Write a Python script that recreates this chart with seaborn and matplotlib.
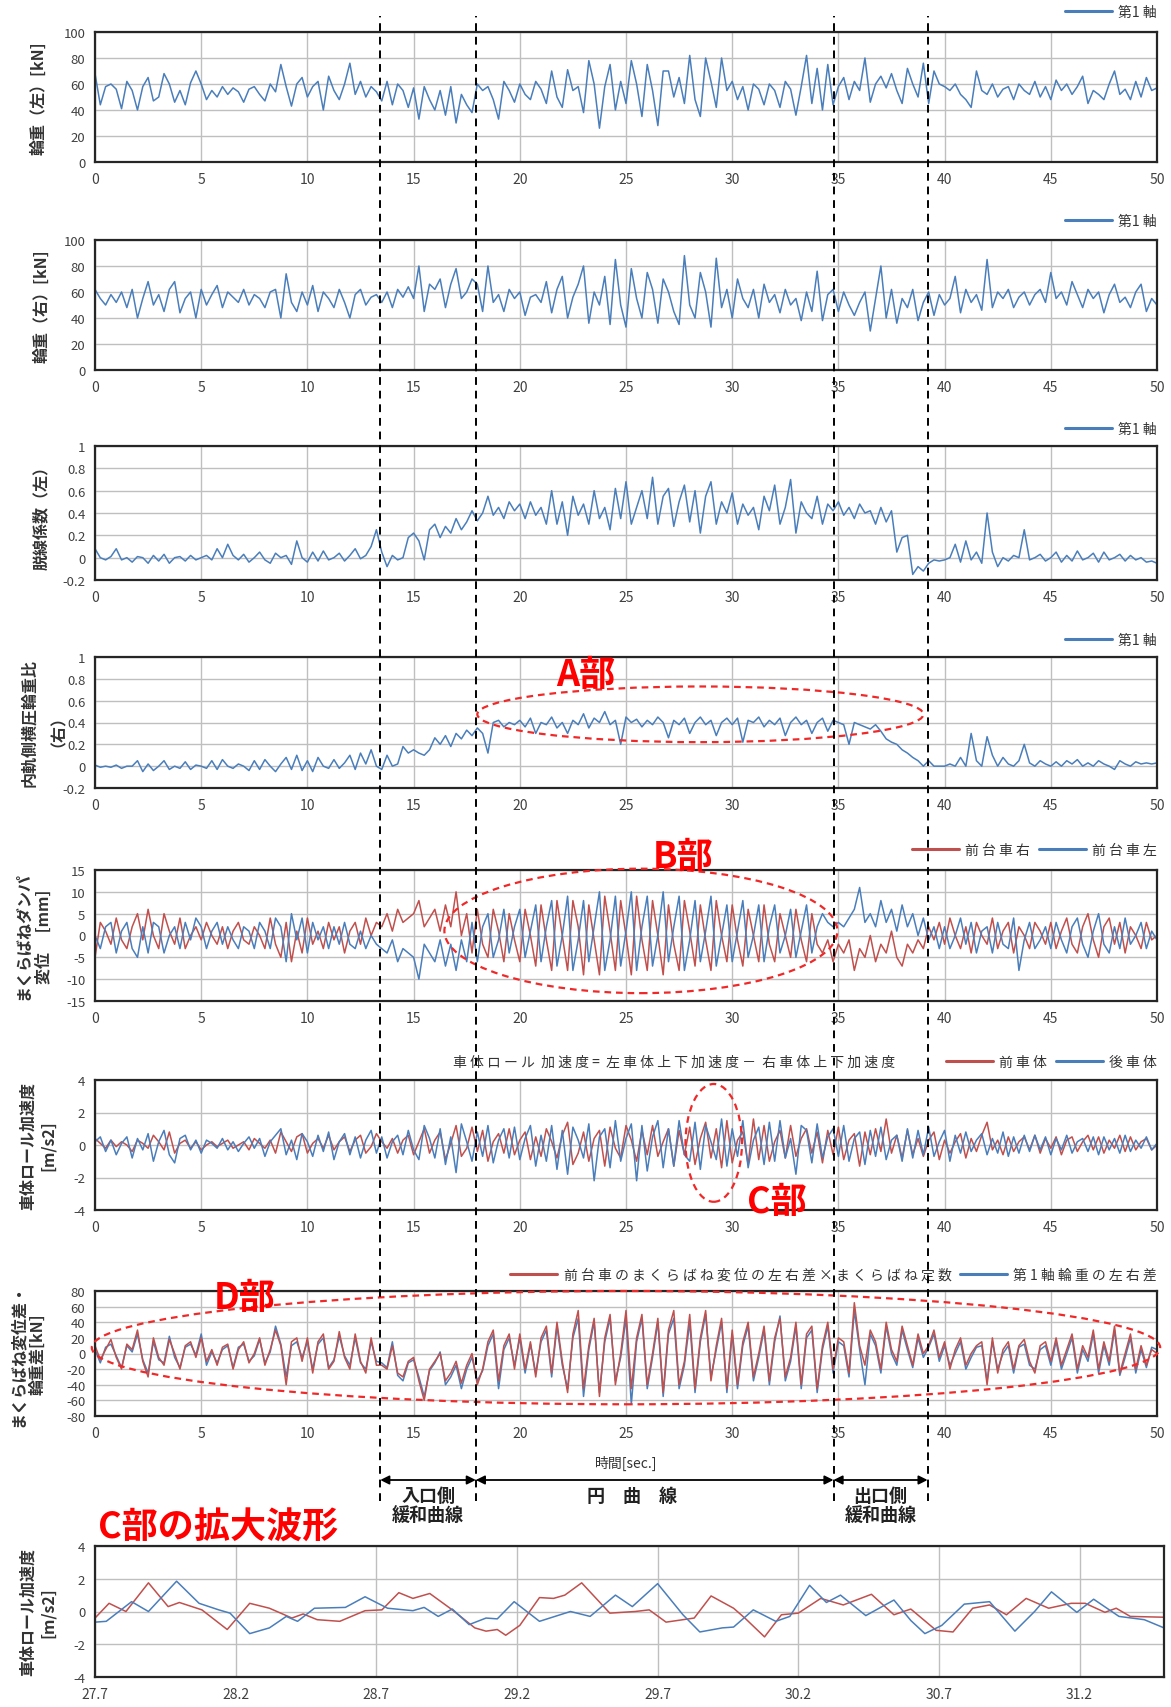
import numpy as np
import pandas as pd
import matplotlib
matplotlib.use("Agg")
import matplotlib.pyplot as plt
import seaborn as sns
from matplotlib.patches import Ellipse
from matplotlib.lines import Line2D

# ---------------- data (0.25 s sampling) ----------------
STEP = 0.25

wheel_load_left = [
    68,44,58,60,56,41,62,55,40,58,65,47,50,68,60,46,55,44,61,70,
    60,48,55,50,58,52,57,54,46,56,58,52,47,60,54,75,58,43,60,65,
    50,58,62,40,66,55,48,60,76,52,62,50,58,54,47,62,44,60,55,42,
    57,33,58,48,40,55,36,58,30,52,44,38,60,55,58,48,33,62,55,46,
    60,52,48,62,56,45,70,50,42,71,55,58,38,78,60,26,58,75,40,62,
    45,78,60,35,75,55,28,70,70,50,65,45,82,48,35,80,62,42,80,55,
    62,48,58,40,60,56,44,60,55,42,62,56,36,58,82,45,72,40,75,44,
    58,65,48,62,55,80,46,60,66,57,68,55,45,72,60,50,76,45,70,60,
    58,55,60,52,48,42,70,55,52,60,50,56,58,48,60,55,52,62,50,58,
    48,63,55,60,52,58,66,45,55,52,48,60,70,52,56,48,62,50,65,55,57]

wheel_load_right = [
    62,55,50,58,52,60,48,62,40,55,68,50,58,45,62,68,44,55,60,40,
    62,50,58,65,48,60,56,52,62,50,58,55,48,60,62,40,74,52,45,60,
    50,65,45,60,55,48,62,52,40,58,62,50,56,58,52,60,48,62,56,64,
    55,80,45,66,62,70,48,66,78,55,60,70,66,45,80,52,58,45,62,55,
    60,42,56,58,52,68,44,62,72,40,56,66,80,36,60,50,72,35,85,50,
    33,78,55,40,75,62,36,70,60,45,35,88,50,40,75,60,33,86,48,62,
    40,70,55,48,62,40,66,52,58,44,62,50,55,38,60,45,76,38,58,62,
    45,60,50,42,52,60,30,55,80,40,62,36,55,48,62,38,52,60,42,58,
    50,55,72,44,62,52,58,46,85,48,60,55,62,48,56,60,50,58,62,52,
    75,55,60,50,68,58,48,62,55,60,44,58,66,52,56,48,60,66,45,55,50]

derail_coef_left = [
    0.08,0.0,-0.02,0.01,0.08,-0.02,0.0,-0.04,0.01,0.0,-0.05,0.02,-0.03,0.03,-0.05,0.0,0.01,-0.03,0.02,-0.02,
    0.0,0.02,-0.02,0.08,0.0,0.12,0.02,-0.02,0.03,-0.04,0.0,0.05,-0.02,-0.05,0.04,0.0,0.02,-0.06,0.15,0.0,
    -0.04,0.05,-0.03,0.06,-0.02,0.0,0.04,-0.03,0.02,0.08,-0.01,0.02,0.1,0.25,0.05,-0.08,0.02,-0.02,0.0,0.18,
    0.22,0.15,-0.02,0.25,0.3,0.18,0.28,0.22,0.35,0.25,0.32,0.42,0.33,0.4,0.55,0.38,0.45,0.35,0.5,0.42,
    0.48,0.35,0.5,0.38,0.45,0.3,0.6,0.3,0.5,0.2,0.55,0.38,0.48,0.3,0.6,0.35,0.45,0.25,0.62,0.35,
    0.68,0.3,0.45,0.6,0.35,0.72,0.3,0.55,0.62,0.28,0.5,0.65,0.32,0.6,0.22,0.55,0.68,0.3,0.5,0.4,
    0.58,0.3,0.48,0.38,0.45,0.25,0.55,0.42,0.65,0.3,0.45,0.7,0.22,0.5,0.4,0.35,0.55,0.3,0.48,0.42,
    0.5,0.38,0.45,0.35,0.48,0.4,0.42,0.3,0.45,0.32,0.42,0.05,0.18,0.2,-0.15,-0.08,-0.12,-0.05,-0.02,-0.03,
    -0.02,0.0,0.12,-0.04,0.15,-0.02,0.05,-0.05,0.4,0.05,-0.08,0.0,-0.03,0.02,0.0,0.25,-0.02,0.0,0.03,-0.03,
    0.0,0.05,-0.04,0.02,-0.03,0.06,-0.02,0.0,0.04,-0.04,0.05,-0.02,0.0,0.03,-0.03,0.02,-0.02,0.0,-0.04,-0.03,-0.05]

lateral_ratio_right = [
    0.01,-0.01,0.0,-0.01,0.01,-0.02,0.0,0.0,0.05,-0.05,0.02,-0.04,0.0,0.05,-0.03,0.0,-0.02,0.04,-0.03,0.01,
    0.0,-0.02,0.05,-0.03,0.06,0.0,-0.02,0.02,0.0,-0.04,0.05,-0.03,0.06,0.0,-0.05,0.02,0.08,-0.03,0.1,-0.04,
    0.05,-0.05,0.08,0.0,-0.02,0.06,-0.02,0.03,0.1,-0.03,0.12,0.02,0.15,0.0,-0.03,0.1,0.0,0.02,0.18,0.12,
    0.15,0.12,0.1,0.15,0.26,0.2,0.28,0.18,0.3,0.25,0.33,0.28,0.35,0.3,0.12,0.4,0.42,0.36,0.4,0.38,
    0.42,0.36,0.44,0.3,0.4,0.38,0.45,0.35,0.4,0.3,0.42,0.38,0.48,0.35,0.44,0.4,0.5,0.38,0.42,0.2,
    0.45,0.4,0.43,0.36,0.42,0.38,0.45,0.4,0.26,0.42,0.38,0.44,0.3,0.4,0.45,0.38,0.42,0.28,0.4,0.44,
    0.38,0.44,0.22,0.42,0.4,0.45,0.36,0.42,0.38,0.44,0.28,0.4,0.45,0.38,0.42,0.3,0.4,0.44,0.32,0.42,
    0.4,0.38,0.2,0.4,0.38,0.36,0.34,0.38,0.32,0.25,0.22,0.2,0.15,0.12,0.08,0.05,0.0,0.05,0.0,0.0,
    0.0,0.02,0.0,0.08,0.0,0.3,0.05,0.0,0.27,0.1,0.0,0.08,0.02,0.0,0.05,0.2,0.03,0.0,0.05,0.02,
    0.0,0.04,0.0,0.05,0.02,0.06,0.0,0.03,0.0,0.05,0.02,0.0,-0.03,0.05,0.02,0.0,0.04,0.02,0.03,0.02,0.03]

damper_right = [
    -5,3,1,-2,4,-1,-3,2,5,-1,6,0,-3,5,1,-2,4,-3,0,2,
    -1,3,0,-2,2,-3,1,3,-1,-2,2,0,-3,4,-2,-5,3,-6,1,-4,
    4,-2,1,-3,3,-1,2,-4,1,3,-2,4,0,3,2,5,1,6,3,4,
    5,8,2,4,6,1,7,2,10,0,5,-4,6,-2,-5,6,1,-6,5,-1,
    -6,6,0,-7,7,-1,-8,8,0,-8,8,2,-9,7,-1,-9,9,1,-8,8,
    0,-9,9,-1,-8,8,0,-9,7,-2,-8,8,1,-7,7,-1,-8,8,0,-6,
    7,-1,-7,6,0,-6,7,-2,-6,5,0,-5,6,-1,-6,5,-2,-4,-1,-6,
    -2,-4,-1,-8,-3,-5,0,-6,-2,-4,1,-5,-7,-2,-4,-1,-3,2,-1,3,
    -2,4,0,-3,2,-4,3,0,-2,4,-3,1,3,-4,2,0,-3,3,1,-2,
    3,-3,1,4,-2,-4,2,5,-1,-5,2,4,-2,3,-4,2,0,-3,3,-1,0]

damper_left = [
    0,-3,2,3,-4,1,3,-3,-5,2,-4,3,2,-4,0,2,-3,3,-1,4,
    2,-3,1,3,-2,2,-1,-3,2,1,-3,3,1,-3,4,2,-6,5,-1,4,
    -4,3,-1,2,-3,2,-2,3,-2,-3,1,-3,0,-2,-3,-4,-1,-6,-3,-4,
    -5,-10,-2,-4,-6,-1,-7,-2,-8,-1,-6,3,-6,2,5,-5,-1,6,-4,2,
    6,-5,1,7,-6,2,8,-7,0,9,-8,-1,8,-6,2,10,-8,-1,9,-7,
    1,10,-8,2,9,-7,0,10,-6,2,9,-8,-1,8,-6,1,9,-7,0,7,
    -6,1,8,-5,0,7,-6,2,7,-4,0,6,-5,1,7,-4,2,5,3,2,
    3,2,4,6,11,3,5,2,8,3,6,1,7,2,5,0,4,-1,2,-3,
    2,-3,0,4,-2,3,-4,1,2,-4,3,-2,-3,4,-8,-1,3,-3,-1,2,
    -3,3,-1,-4,2,4,-2,-5,1,5,-2,-4,2,-3,4,-2,0,3,-3,1,-1]

roll_acc_front = [
    0.4,0.1,-0.2,0.3,-0.1,0.2,0.0,-0.4,0.3,0.1,-0.2,0.6,0.2,-0.3,0.8,-0.5,0.1,0.3,-0.2,0.2,
    -0.3,0.0,0.2,-0.1,0.1,0.3,-0.2,0.0,0.2,-0.3,0.4,0.1,-0.2,0.3,-0.5,0.8,0.2,-0.4,0.5,0.7,
    -0.5,0.1,0.4,-0.2,0.6,-0.3,0.2,0.5,-0.4,0.3,0.6,-0.5,-0.1,0.7,0.2,-0.2,0.4,-0.5,0.3,0.6,
    -0.6,0.2,1.0,-0.5,0.3,0.8,-0.9,0.1,1.2,-0.7,-0.2,1.1,-0.4,0.9,-1.0,0.2,0.7,-0.5,1.0,-0.6,
    0.3,0.8,-0.9,0.5,-0.7,1.0,0.2,-0.8,0.6,1.4,-1.2,-0.5,0.8,-1.0,0.4,0.9,-1.3,1.1,-0.2,-0.8,
    1.2,0.3,-1.0,0.9,-0.6,1.2,-0.7,0.2,1.0,-1.3,0.9,-0.6,1.1,-1.2,0.4,1.4,-0.8,1.0,-1.4,1.5,
    -1.1,0.3,0.8,-1.2,1.6,-0.9,1.2,-1.0,0.2,0.9,-0.8,1.2,-0.7,0.4,1.0,-0.5,0.8,-1.1,0.9,-0.6,
    1.1,-0.9,0.3,0.7,-1.3,0.8,-0.6,1.0,-0.4,1.6,-0.5,0.6,-0.8,0.9,-0.6,0.4,-0.7,0.3,0.8,-0.9,
    0.3,-0.5,0.2,0.7,-0.8,0.4,-0.4,0.6,1.4,-0.3,0.3,-0.6,0.5,-0.4,0.2,0.5,-0.3,0.6,-0.5,0.4,
    -0.2,0.5,-0.6,0.3,0.5,-0.4,0.2,0.6,-0.3,0.5,-0.5,0.3,-0.2,0.6,-0.4,0.5,-0.3,0.2,0.4,-0.3,0.0]

roll_acc_rear = [
    0.2,0.5,-0.4,0.3,-0.6,0.1,0.5,-0.8,0.4,-0.3,0.7,-1.0,0.2,0.9,-0.6,-1.1,0.4,0.6,-0.3,0.3,
    -0.5,0.3,0.1,-0.2,0.4,-0.3,0.2,-0.4,0.1,0.5,-0.2,0.4,-0.7,0.2,0.6,1.0,-0.6,0.3,-0.9,0.7,
    0.2,-0.7,0.6,-0.4,0.8,-0.9,0.2,0.7,-0.6,0.5,-0.8,0.3,0.9,-0.5,0.5,-0.8,0.2,0.6,-0.6,0.9,
    -0.3,-0.9,1.2,0.4,-0.8,1.0,-1.2,0.5,-1.7,1.3,0.2,-1.0,0.8,-0.7,1.2,-1.1,0.3,1.0,-0.8,1.1,
    -0.9,0.4,1.2,-1.3,0.6,-1.0,1.2,-1.5,0.9,-1.8,1.1,0.3,-0.8,1.3,-2.2,0.5,1.0,-1.4,1.5,-1.0,
    0.4,1.3,-2.2,1.2,-1.6,0.5,1.5,-1.4,1.0,-1.3,1.5,-0.6,-1.0,1.4,-1.5,1.2,0.2,-0.9,1.6,-1.3,
    1.0,-0.7,1.5,-1.4,0.3,1.1,-1.2,1.4,-1.0,1.5,-0.8,0.4,-1.8,1.2,0.9,-1.1,1.3,-0.8,0.5,1.0,
    -0.7,1.2,-1.0,0.4,0.8,-1.2,0.9,-0.7,1.1,-0.9,0.3,0.6,-1.0,1.0,-0.8,0.9,-0.6,1.1,-0.7,0.2,
    0.9,-1.0,0.6,-0.5,0.8,-0.4,0.3,0.7,-0.6,0.4,-0.5,0.8,-0.7,0.5,-0.5,0.6,-0.4,0.6,-0.3,0.5,
    -0.6,0.4,-0.3,0.6,-0.5,0.2,0.4,-0.4,0.5,-0.6,0.5,-0.3,0.4,-0.5,0.6,-0.4,0.3,-0.2,0.5,-0.3,0.1]

spring_diff = [
    10,-8,5,18,-5,-20,12,5,30,-10,-30,20,-5,-15,18,0,-20,10,15,-5,
    20,-10,5,-15,8,12,-20,5,15,-12,0,20,-15,5,30,10,-40,15,20,-10,
    20,-25,15,25,-20,-10,28,-5,-20,25,-10,-25,20,-15,-15,-20,10,-25,-30,-10,
    -5,-35,-60,-20,-10,0,-35,-25,-10,-38,-15,0,-40,-20,15,30,-35,10,25,-20,
    25,-20,15,-30,20,35,-25,40,-10,-50,25,55,-45,10,45,-55,20,50,-40,0,
    55,-45,20,50,-40,0,45,-50,30,55,-40,-10,50,-45,20,55,-35,10,45,-45,
    30,-40,15,40,-30,0,35,-35,20,45,-30,-5,40,-40,25,35,-45,10,40,-20,
    20,15,-25,65,10,-15,30,15,-20,40,5,-10,35,10,-15,25,0,10,30,-5,
    15,-20,5,20,-15,0,10,15,-40,20,-25,5,15,-20,10,18,-10,-25,10,15,
    -10,20,-15,5,25,-20,10,-5,30,-20,15,-10,35,-25,0,25,-20,10,-15,5,0]

axle_load_diff = [
    5,-12,8,12,-3,-18,10,2,25,-8,-25,15,-8,-12,22,-5,-18,8,12,-2,
    25,-15,2,-12,5,10,-18,8,12,-10,-3,18,-12,2,35,12,-30,10,15,-5,
    15,-20,12,20,-18,-8,22,-3,-15,20,-12,-20,15,-10,-12,-18,15,-28,-35,-12,
    -8,-30,-55,-22,-12,2,-40,-30,-15,-45,-20,-5,-35,-22,10,25,-45,5,20,-15,
    20,-25,12,-25,15,30,-30,35,-15,-45,20,45,-55,5,40,-50,15,45,-35,-5,
    45,-65,15,45,-45,-5,40,-55,25,45,-45,-15,40,-50,15,50,-30,5,40,-50,
    25,-45,10,35,-35,-5,30,-40,15,48,-35,-10,35,-45,20,30,-50,5,35,-25,
    15,10,-30,55,5,-40,25,10,-25,35,0,-15,30,5,-18,20,-5,8,25,-10,
    10,-15,0,15,-20,-5,8,10,-35,15,-20,0,10,-25,8,12,-15,-20,5,10,
    -15,15,-20,0,20,-25,5,-10,25,-25,10,-15,30,-28,-5,20,-25,5,-18,8,5]

# enlarged C section (27.7 - 31.5 s)
zoom_front_t = [27.70,27.75,27.81,27.89,27.96,28.00,28.08,28.17,28.25,28.32,28.40,28.44,28.49,28.57,28.66,
                28.72,28.78,28.83,28.89,28.97,29.05,29.09,29.13,29.16,29.21,29.28,29.33,29.37,29.43,29.53,
                29.62,29.67,29.73,29.83,29.89,29.97,30.01,30.08,30.14,30.20,30.28,30.36,30.46,30.54,30.60,
                30.69,30.75,30.82,30.88,30.94,31.01,31.09,31.17,31.22,31.29,31.33,31.38,31.50]
zoom_front_v = [-0.4,0.5,0.0,1.75,0.3,0.55,0.1,-1.1,0.5,0.2,-0.4,-0.15,-0.5,-0.6,0.05,
                0.1,1.15,0.8,1.1,0.1,-1.0,-1.2,-1.1,-1.45,-0.85,0.85,0.8,1.0,1.75,-0.1,
                0.0,0.1,-0.65,-0.4,0.95,0.2,-0.4,-1.55,-0.2,-0.1,0.8,0.4,1.05,-0.2,0.15,
                -1.15,-1.25,0.2,0.4,-0.2,0.8,0.2,0.5,0.5,-0.05,0.2,-0.3,-0.35]
zoom_rear_t = [27.70,27.74,27.83,27.89,27.99,28.07,28.14,28.18,28.25,28.32,28.38,28.42,28.48,28.59,28.66,
               28.74,28.83,28.87,28.92,28.97,29.03,29.09,29.13,29.19,29.28,29.39,29.46,29.55,29.61,29.70,
               29.79,29.85,29.93,29.97,30.04,30.12,30.17,30.24,30.30,30.35,30.44,30.54,30.60,30.65,30.71,
               30.79,30.88,30.97,31.04,31.10,31.19,31.25,31.34,31.43,31.50]
zoom_rear_v = [-0.65,-0.6,0.6,0.0,1.85,0.5,0.1,-0.1,-1.35,-1.0,-0.3,-0.6,0.2,0.25,0.9,
               0.2,0.05,0.25,-0.3,0.15,-0.8,-0.4,-0.45,0.6,-0.6,0.0,-0.3,1.0,0.3,1.7,
               -0.2,-1.25,-1.0,-0.95,0.1,-0.6,-0.3,1.6,0.55,1.0,-0.25,0.7,-0.55,-1.35,-0.85,
               0.45,0.6,-1.2,0.0,1.2,-0.05,0.75,-0.3,-0.5,-1.0]

section_bounds = [13.43, 17.93, 34.77, 39.2]
x_ticks = list(range(0, 51, 5))
zoom_ticks = [27.7, 28.2, 28.7, 29.2, 29.7, 30.2, 30.7, 31.2]

for name, s in [("wl", wheel_load_left), ("wr", wheel_load_right), ("dc", derail_coef_left),
                ("lr", lateral_ratio_right), ("dr", damper_right), ("dl", damper_left),
                ("rf", roll_acc_front), ("rr", roll_acc_rear), ("sd", spring_diff), ("ad", axle_load_diff)]:
    assert len(s) == 201, (name, len(s))
assert len(zoom_front_t) == len(zoom_front_v) and len(zoom_rear_t) == len(zoom_rear_v)

# ---------------- style ----------------
sns.set_theme(style="white")
plt.rcParams['font.family'] = ['Noto Sans CJK JP', 'DejaVu Sans']
plt.rcParams['axes.unicode_minus'] = False

BLUE = '#4A7EBB'
RED = '#C0504D'
ANN = '#FF0000'
W, H = 1171, 1708
fig = plt.figure(figsize=(W / 100, H / 100), dpi=100)


def sp(s):
    return ' '.join(list(s))


def make_ax(top, bottom, right=1157):
    return fig.add_axes([95 / W, 1 - bottom / H, (right - 95) / W, (bottom - top) / H])


def draw(ax, vals, color, t=None):
    if t is None:
        t = np.arange(len(vals)) * STEP
    df = pd.DataFrame({'t': t, 'v': vals})
    sns.lineplot(data=df, x='t', y='v', ax=ax, color=color, lw=1.1,
                 estimator=None, sort=False, legend=False)


def style(ax, ylim, yticks, ylabel, label_x, yticklabels=None,
          xlim=(0, 50), xticks=x_ticks, xticklabels=None):
    ax.set_xlim(*xlim)
    ax.set_ylim(*ylim)
    ax.set_xticks(xticks)
    ax.set_yticks(yticks)
    if yticklabels is not None:
        ax.set_yticklabels(yticklabels)
    if xticklabels is not None:
        ax.set_xticklabels(xticklabels)
    ax.grid(True, color='#BFBFBF', lw=1.0)
    ax.set_axisbelow(True)
    for s in ax.spines.values():
        s.set_visible(True)
        s.set_color('#262626')
        s.set_linewidth(1.6)
    ax.tick_params(axis='x', length=0, labelsize=10, pad=7, labelcolor='#404040')
    ax.tick_params(axis='y', length=0, labelsize=9.5, pad=7, labelcolor='#404040')
    ax.set_xlabel('')
    ax.set_ylabel(ylabel, fontsize=11.5, fontweight='bold', color='#333333', linespacing=1.3)
    ax.yaxis.label.set_va('center')
    wpx = ax.get_position().width * W
    ax.yaxis.set_label_coords((label_x - 95) / wpx, 0.5)


def legend(ax, items, y_px):
    handles = [Line2D([], [], color=c, lw=2.2) for c, _ in items]
    labels = [l for _, l in items]
    hpx = ax.get_position().height * H
    ax.legend(handles, labels, loc='center right', bbox_to_anchor=(1.0, 1 + y_px / hpx),
              ncol=len(items), frameon=False, fontsize=10, handlelength=3.4,
              handletextpad=0.45, columnspacing=0.6, borderaxespad=0, borderpad=0,
              labelcolor='#333333')


ratio_ticks = [-0.2, 0, 0.2, 0.4, 0.6, 0.8, 1]
ratio_labels = ['-0.2', '0', '0.2', '0.4', '0.6', '0.8', '1']

# Panel 1
ax1 = make_ax(33, 163)
draw(ax1, wheel_load_left, BLUE)
style(ax1, (0, 100), range(0, 101, 20), '輪重（左）[kN]', 38)
legend(ax1, [(BLUE, '第1 軸')], 20)

# Panel 2
ax2 = make_ax(241, 371)
draw(ax2, wheel_load_right, BLUE)
style(ax2, (0, 100), range(0, 101, 20), '輪重（右）[kN]', 41)
legend(ax2, [(BLUE, '第1 軸')], 19)

# Panel 3
ax3 = make_ax(447, 581)
draw(ax3, derail_coef_left, BLUE)
style(ax3, (-0.2, 1), ratio_ticks, '脱線係数（左）', 41, yticklabels=ratio_labels)
legend(ax3, [(BLUE, '第1 軸')], 17)

# Panel 4
ax4 = make_ax(658, 789)
draw(ax4, lateral_ratio_right, BLUE)
style(ax4, (-0.2, 1), ratio_ticks, '内軌側横圧輪重比\n（右）', 39.5, yticklabels=ratio_labels)
legend(ax4, [(BLUE, '第1 軸')], 17)
ax4.add_patch(Ellipse((28.5, 0.475), 21.0, 0.51, fill=False, edgecolor='#F02828', lw=1.6,
                      ls=(0, (3, 2.2)), clip_on=False, zorder=6))
ax4.text(23.1, 0.84, 'A部', color=ANN, fontsize=26, fontweight='bold', ha='center', va='center',
         clip_on=False, zorder=7)

# Panel 5
ax5 = make_ax(871, 1002)
draw(ax5, damper_right, RED)
draw(ax5, damper_left, BLUE)
style(ax5, (-15, 15), range(-15, 16, 5), 'まくらばねダンパ\n変位　 [mm]', 33.7)
legend(ax5, [(RED, sp('前台車右')), (BLUE, sp('前台車左'))], 20)
ax5.add_patch(Ellipse((25.7, 1.05), 18.5, 28.5, fill=False, edgecolor='#F02828', lw=1.6,
                      ls=(0, (3, 2.2)), clip_on=False, zorder=6))
ax5.text(27.7, 18.0, 'B部', color=ANN, fontsize=26, fontweight='bold', ha='center', va='center',
         clip_on=False, zorder=7)

# Panel 6
ax6 = make_ax(1081, 1211)
draw(ax6, roll_acc_front, RED)
draw(ax6, roll_acc_rear, BLUE)
style(ax6, (-4, 4), range(-4, 5, 2), '車体ロール加速度\n[m/s2]', 37.5)
legend(ax6, [(RED, sp('前車体')), (BLUE, sp('後車体'))], 18)
ax6.text((895 - 95) / 1062, 1 + 18 / 130,
         sp('車体ロール') + '  ' + sp('加速度=') + '  ' + sp('左車体上下加速度－') + '  ' + sp('右車体上下加速度'),
         transform=ax6.transAxes, ha='right', va='center', fontsize=10, color='#333333')
ax6.add_patch(Ellipse((29.13, 0.13), 2.66, 7.25, fill=False, edgecolor='#F02828', lw=1.6,
                      ls=(0, (3, 2.2)), clip_on=False, zorder=6))
ax6.text(32.1, -3.45, 'C部', color=ANN, fontsize=26, fontweight='bold', ha='center', va='center',
         clip_on=False, zorder=7)

# Panel 7
ax7 = make_ax(1292, 1417)
draw(ax7, axle_load_diff, BLUE)
draw(ax7, spring_diff, RED)
style(ax7, (-80, 80), range(-80, 81, 20), 'まくらばね変位差・\n輪重差[kN]', 27.5)
legend(ax7, [(RED, sp('前台車のまくらばね変位の左右差×まくらばね定数')), (BLUE, sp('第1軸輪重の左右差'))], 16)
ax7.add_patch(Ellipse((25.0, 7.5), 50.3, 145, fill=False, edgecolor='#F02828', lw=1.6,
                      ls=(0, (3, 2.2)), clip_on=False, zorder=6))
ax7.text(7.05, 72, 'D部', color=ANN, fontsize=26, fontweight='bold', ha='center', va='center',
         clip_on=False, zorder=7)

# Panel 8 (enlarged C section)
ax8 = make_ax(1547, 1678, right=1164)
draw(ax8, zoom_front_v, RED, t=zoom_front_t)
draw(ax8, zoom_rear_v, BLUE, t=zoom_rear_t)
style(ax8, (-4, 4), range(-4, 5, 2), '車体ロール加速度\n[m/s2]', 37.5,
      xlim=(27.7, 31.5), xticks=zoom_ticks, xticklabels=[f'{v:.1f}' for v in zoom_ticks])
ax8.text(0.003, 1 + (1547 - 1528) / 131, 'C部の拡大波形', transform=ax8.transAxes,
         color=ANN, fontsize=26, fontweight='bold', ha='left', va='center')

# section annotation strip
axa = fig.add_axes([95 / W, 1 - 1530 / H, 1062 / W, 105 / H])
axa.set_xlim(0, 50)
axa.set_ylim(1530, 1425)
axa.axis('off')
axa.text(25.0, 1463, '時間[sec.]', ha='center', va='center', fontsize=10, color='#333333')
for a, b in zip(section_bounds[:-1], section_bounds[1:]):
    axa.annotate('', xy=(b, 1481), xytext=(a, 1481),
                 arrowprops=dict(arrowstyle='<|-|>', color='black', lw=1.3,
                                 shrinkA=0, shrinkB=0, mutation_scale=13))
ent = (section_bounds[0] + section_bounds[1]) / 2
ext = (section_bounds[2] + section_bounds[3]) / 2
axa.text(ent, 1497, '入口側', ha='center', va='center', fontsize=13, fontweight='bold', color='#222222')
axa.text(ent, 1516, '緩和曲線', ha='center', va='center', fontsize=13, fontweight='bold', color='#222222')
axa.text(25.3, 1497, '円　曲　線', ha='center', va='center', fontsize=13, fontweight='bold', color='#222222')
axa.text(ext, 1497, '出口側', ha='center', va='center', fontsize=13, fontweight='bold', color='#222222')
axa.text(ext, 1516, '緩和曲線', ha='center', va='center', fontsize=13, fontweight='bold', color='#222222')

# vertical dashed section boundaries through all panels
inv = fig.transFigure.inverted()
for tb in section_bounds:
    xd = ax1.transData.transform((tb, 0))
    xf = inv.transform(xd)[0]
    fig.add_artist(Line2D([xf, xf], [1 - 1502 / H, 1 - 17 / H], transform=fig.transFigure,
                          color='black', lw=1.4, ls=(0, (4, 3)), zorder=20))

fig.savefig('out.png', dpi=100)
